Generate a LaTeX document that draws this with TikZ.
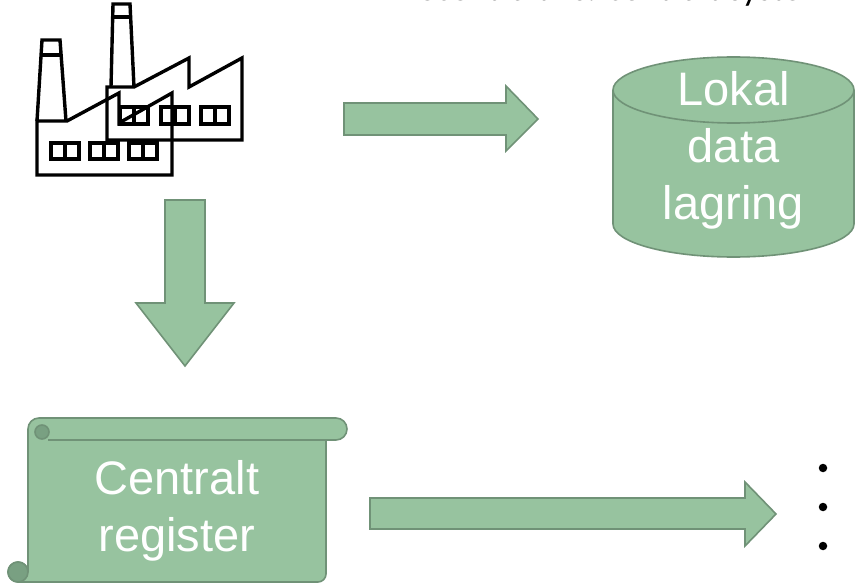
\documentclass[tikz,border=0pt]{standalone}
\usepackage{fontspec}
\setmainfont{Liberation Sans}
\newfontfamily\titlefont{Carlito}
\usetikzlibrary{shapes}

\definecolor{lysgroen}{RGB}{151,195,159}
\definecolor{kantgroen}{RGB}{112,146,119}
\definecolor{rullegroen}{RGB}{121,160,130}

\begin{document}
\begin{tikzpicture}[x=1pt,y=-1pt,
  blok/.style={fill=lysgroen,draw=kantgroen,line width=1.6pt,line join=miter},
  kant/.style={draw=kantgroen,line width=1.6pt},
  rulle/.style={fill=rullegroen,draw=kantgroen,line width=1.6pt},
  fabrik/.style={draw=black,line width=3.4pt,line join=miter},
  tekst/.style={text=white,align=center,font=\fontsize{47}{57}\selectfont},
  punkt/.style={circle,fill=black,inner sep=0pt,minimum size=8.5pt}]

\useasboundingbox (0,0) rectangle (855,583);

\begin{scope}
\clip (0,0) rectangle (855,583);
\node[anchor=base east,inner sep=0pt,font=\titlefont\fontsize{36}{43}\selectfont] (titel) at (830,0.5) {Decentralt vs. centralt system};
\end{scope}

% fabrik
\draw[fabrik] (111,87) -- (113,4) -- (130,4) -- (134,87);
\draw[fabrik] (112,17) -- (131,17);
\draw[fabrik] (107,87) -- (134,87) -- (189,58) -- (189,87) -- (242,58) -- (242,140) -- (107,140) -- cycle;
\draw[fabrik] (37,121) -- (42,40) -- (60,40) -- (66,121);
\draw[fabrik] (41,55) -- (61,55);
\draw[fabrik] (37,121) -- (67,121) -- (119,93) -- (119,123) -- (172,93) -- (172,175) -- (37,175) -- cycle;
\foreach \x in {120,161,201} {
  \draw[fabrik] (\x,107) rectangle +(28,17);
  \draw[fabrik] (\x+14,107) -- +(0,17);
}
\foreach \x in {51,90,129} {
  \draw[fabrik] (\x,143) rectangle +(28,16);
  \draw[fabrik] (\x+14,143) -- +(0,16);
}

% pile
\draw[blok] (344,103) -- (506,103) -- (506,86) -- (538,119) -- (506,151) -- (506,135) -- (344,135) -- cycle;
\draw[blok] (165,200) -- (205,200) -- (205,303) -- (234,303) -- (185,366) -- (136,303) -- (165,303) -- cycle;
\draw[blok] (370,498) -- (745,498) -- (745,482) -- (776,514) -- (745,546) -- (745,529) -- (370,529) -- cycle;

% lokal lagring
\path[blok] (613,90) -- (613,224) arc[start angle=180,end angle=0,x radius=120.5,y radius=33] -- (854,90) arc[start angle=0,end angle=-180,x radius=120.5,y radius=33] -- cycle;
\draw[kant] (613,90) arc[start angle=180,end angle=0,x radius=120.5,y radius=33];
\node[tekst] (lager) at (733.5,150) {Lokal\\data\\lagring};

% centralt register
\path[blok] (39,418) -- (336,418) arc[start angle=-90,end angle=90,radius=11] -- (326,440) -- (326,574) arc[start angle=0,end angle=90,radius=8] -- (18,582) arc[start angle=90,end angle=360,radius=10] -- (28,429) arc[start angle=180,end angle=270,radius=11] -- cycle;
\draw[kant] (48,440) -- (326,440);
\path[rulle] (42,432) circle[radius=7];
\path[rulle] (18,572) circle[radius=10];
\node[tekst] (register) at (177,511) {Centralt\\register};

\foreach \y/\n in {468/1,507/2,546/3}
  \node[punkt] (punkt\n) at (823,\y) {};
\end{tikzpicture}
\end{document}
